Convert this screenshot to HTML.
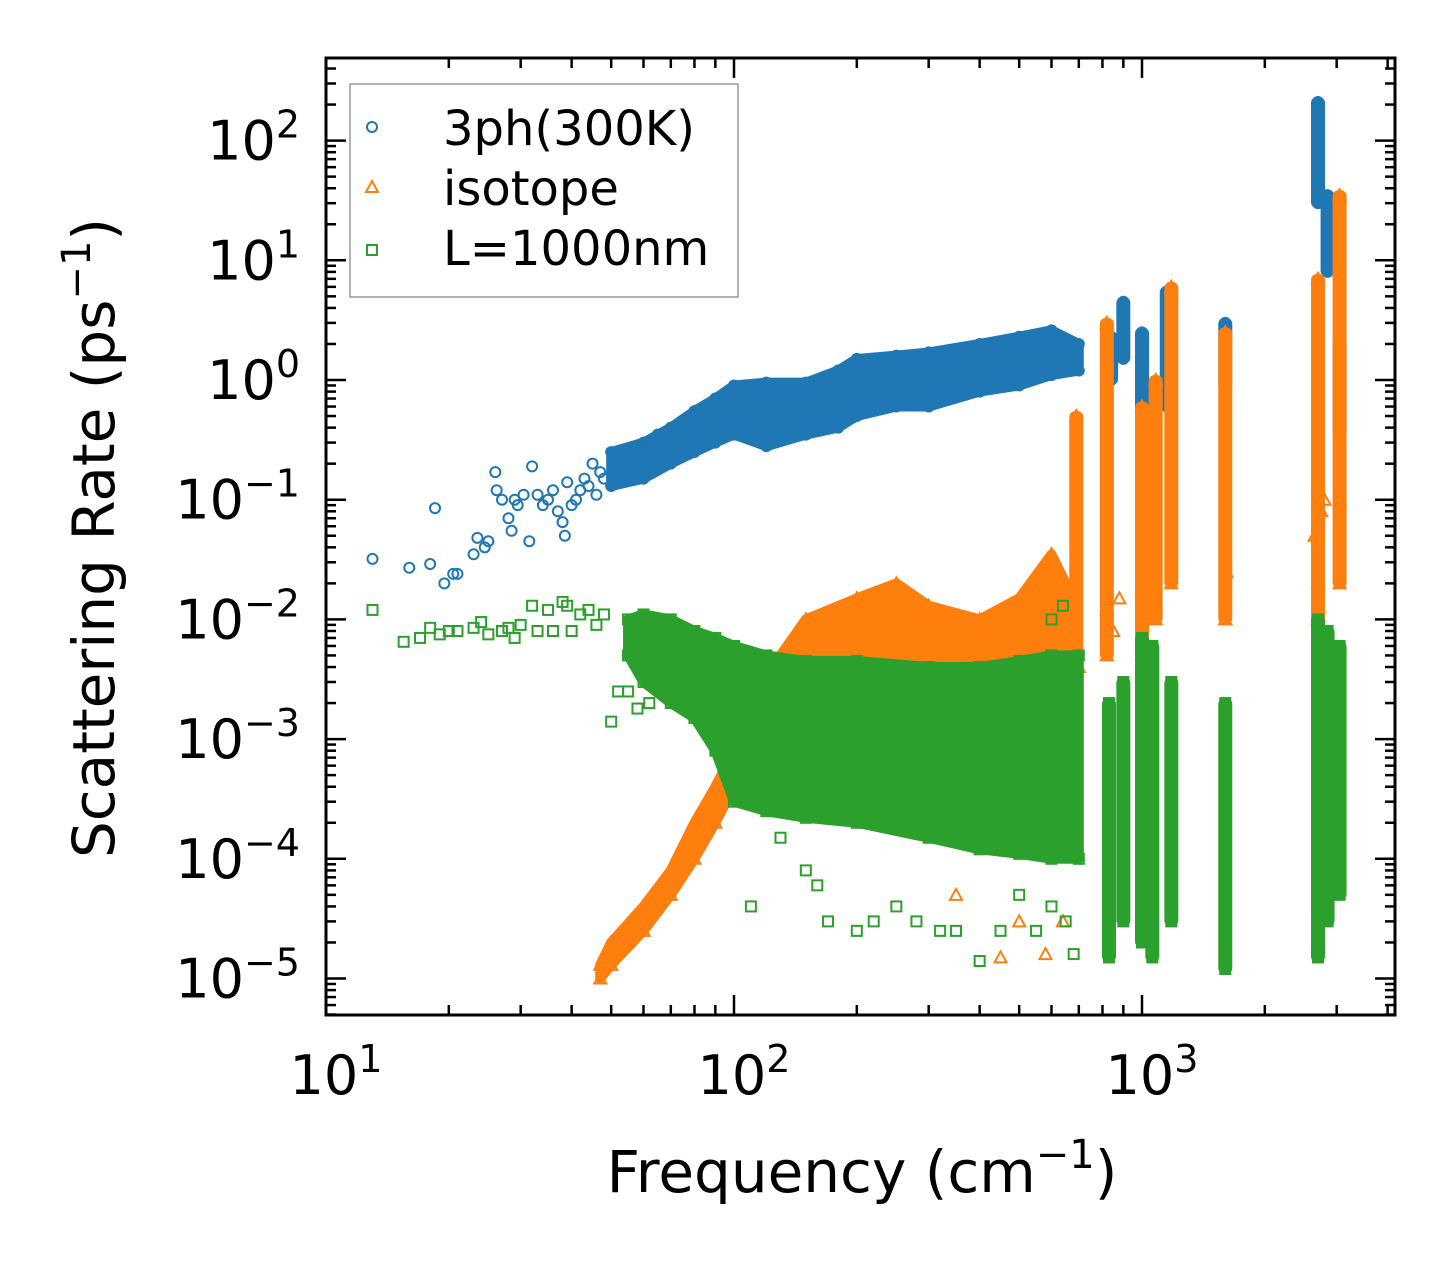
<!DOCTYPE html>
<html><head><meta charset="utf-8"><style>
body{margin:0;background:#fff}
svg{display:block}
text{font-family:"DejaVu Sans","Liberation Sans",sans-serif;fill:#000}
</style></head><body>
<svg id="chart" width="1455" height="1265" viewBox="0 0 1455 1265">
<rect width="1455" height="1265" fill="#fff"/>
<g id="marks"></g>
<g id="axes"></g>
<text x="862" y="1192" font-size="58" text-anchor="middle">Frequency (cm<tspan dy="-24" font-size="40">−1</tspan><tspan dy="24">)</tspan></text>
<text transform="translate(114,538) rotate(-90)" font-size="58" text-anchor="middle">Scattering Rate (ps<tspan dy="-24" font-size="40">−1</tspan><tspan dy="24">)</tspan></text>
<g>
<rect x="350" y="84" width="388" height="213" fill="#fff" stroke="#999" stroke-width="1.5"/>
<g><circle cx="372" cy="127" r="5" fill="none" stroke="#1f77b4" stroke-width="2"/><text x="443" y="145" font-size="48">3ph(300K)</text></g>
<g><polygon points="372,181 378,192 366,192" fill="none" stroke="#ff7f0e" stroke-width="2"/><text x="443" y="205" font-size="48">isotope</text></g>
<g><rect x="367" y="245" width="10" height="10" fill="none" stroke="#2ca02c" stroke-width="2"/><text x="443" y="265" font-size="48">L=1000nm</text></g>
</g>
</svg>
<script>
// ---- data ----
const blueBandX  = [50,60,70,80,90,100,120,150,180,200,250,300,400,500,600,700];
const blueBandLo = [0.13,0.15,0.2,0.25,0.3,0.35,0.28,0.35,0.4,0.5,0.6,0.6,0.8,0.9,1.1,1.2];
const blueBandHi = [0.25,0.3,0.4,0.55,0.7,0.9,0.95,0.95,1.2,1.5,1.6,1.7,2.0,2.3,2.6,2.0];
const blueClusterX  = [840,900,1000,1150,1600,2700,2850,3050];
const blueClusterLo = [1.0,1.5,0.5,0.6,0.9,30,8,0.35];
const blueClusterHi = [2.3,4.5,2.5,5.5,3.0,210,35,2.0];
const bluePtsX = [13,16,18,18.5,19.5,20.5,21,23,23.5,24.5,25,26,26.2,27,28,28.5,29,29.5,30.5,31.5,32,33,34,35,36,37,38,38.5,39,40,41,42,43,44,45,46,47,48,52,56,60,65,75];
const bluePtsY = [0.032,0.027,0.029,0.085,0.02,0.024,0.024,0.035,0.048,0.04,0.045,0.17,0.12,0.1,0.07,0.055,0.1,0.09,0.11,0.045,0.19,0.11,0.09,0.1,0.12,0.08,0.065,0.05,0.14,0.09,0.1,0.12,0.15,0.13,0.2,0.11,0.17,0.15,0.2,0.22,0.28,0.35,0.45];

const orangeBandX  = [47,50,60,70,80,90,100,115,130,150,200,250,300,400,500,600,650,680];
const orangeBandLo = [1e-5,1.3e-5,2.5e-5,5e-5,1e-4,2e-4,4e-4,6e-4,1e-3,1.5e-3,1.5e-3,1.5e-3,1.5e-3,1.5e-3,1.5e-3,1.5e-3,1.5e-3,1.5e-3];
const orangeBandHi = [1.3e-5,2e-5,4e-5,8e-5,2e-4,4e-4,8e-4,2e-3,5e-3,1e-2,1.5e-2,2e-2,1.3e-2,1e-2,1.5e-2,3.5e-2,2e-2,3e-3];
const orangeClusterX  = [690,820,1000,1080,1180,1600,2700,3050];
const orangeClusterLo = [3e-3,5e-3,5e-3,1e-2,2e-2,1e-2,1e-2,2e-2];
const orangeClusterHi = [0.5,3,0.6,1.0,6,2.5,7,35];
const orangePtsX = [350,450,500,580,640,700,820,850,880,1600,1610,2650,2700,2750,2800,3050];
const orangePtsY = [5e-5,1.5e-5,3e-5,1.6e-5,3e-5,4e-3,1.2e-2,8e-3,1.5e-2,1e-2,2.5e-2,0.05,0.02,0.08,0.1,0.1];

const greenBandX  = [55,60,70,80,90,100,120,150,200,300,400,500,600,700];
const greenBandLo = [5e-3,3e-3,2e-3,1.5e-3,8e-4,3e-4,2.5e-4,2.2e-4,2e-4,1.5e-4,1.2e-4,1.1e-4,1e-4,1e-4];
const greenBandHi = [1e-2,1.1e-2,1e-2,8e-3,7e-3,6e-3,5e-3,4.5e-3,4.5e-3,4e-3,4e-3,4.5e-3,5e-3,5e-3];
const greenClusterX  = [830,900,1000,1060,1180,1600,2700,2850,3050];
const greenClusterLo = [1.5e-5,3e-5,2e-5,1.5e-5,3e-5,1.2e-5,1.5e-5,3e-5,5e-5];
const greenClusterHi = [2e-3,3e-3,7e-3,6e-3,3e-3,2e-3,1e-2,8e-3,6e-3];
const greenPtsX = [13,15.5,17,18,19,20,21,23,24,25,27,28,29,30,32,33,35,36,38,39,40,42,44,46,48,50,52,55,58,62,66,70,75,85,90,110,130,150,160,170,200,220,250,280,320,350,400,450,500,550,600,650,680,600,640];
const greenPtsY = [1.2e-2,6.5e-3,7e-3,8.5e-3,7.5e-3,8e-3,8e-3,8.5e-3,9.5e-3,7.5e-3,8e-3,8.5e-3,7e-3,9e-3,1.3e-2,8e-3,1.2e-2,8e-3,1.4e-2,1.3e-2,8e-3,1.1e-2,1.2e-2,9e-3,1.1e-2,1.4e-3,2.5e-3,2.5e-3,1.8e-3,2e-3,2.5e-3,2.2e-3,2e-3,1.2e-3,1.3e-3,4e-5,1.5e-4,8e-5,6e-5,3e-5,2.5e-5,3e-5,4e-5,3e-5,2.5e-5,2.5e-5,1.4e-5,2.5e-5,5e-5,2.5e-5,4e-5,3e-5,1.6e-5,1e-2,1.3e-2];

const xTicks = [10,100,1000];
const xTickExp = ["1","2","3"];
const yTicks = [100,10,1,0.1,0.01,0.001,0.0001,0.00001];
const yTickExp = ["2","1","0","−1","−2","−3","−4","−5"];

// ---- scales ----
const L=326,R=1395,T=58,B=1015;
const X=f=>L+(Math.log10(f)-1)*408;
const Y=r=>380-Math.log10(r)*119.7;
const NS='http://www.w3.org/2000/svg';
const marks=document.getElementById('marks');
const axes=document.getElementById('axes');
function mk(tag,attrs,parent){const e=document.createElementNS(NS,tag);for(const k in attrs)e.setAttribute(k,attrs[k]);parent.appendChild(e);return e;}

function marker(shape,color,x,y,g){
  let e;
  if(shape==='c'){e=mk('circle',{cx:x,cy:y,r:5,fill:'none',stroke:color,'stroke-width':2},g);}
  else if(shape==='t'){e=mk('polygon',{points:`${x},${y-6} ${x+6},${y+5} ${x-6},${y+5}`,fill:'none',stroke:color,'stroke-width':2},g);}
  else {e=mk('rect',{x:x-5,y:y-5,width:10,height:10,fill:'none',stroke:color,'stroke-width':2},g);}
  
  
}
function series(name,color,shape,bx,blo,bhi,cx,clo,chi,px,py){
  const g=mk('g',{},marks);
  
  
  const up=bx.map((f,i)=>X(f)+','+Y(bhi[i]));
  const dn=bx.map((f,i)=>X(f)+','+Y(blo[i])).reverse();
  const band=mk('polygon',{points:up.concat(dn).join(' '),fill:color,stroke:color,'stroke-width':10,'stroke-linejoin':'round'},g);
  
  
  cx.forEach((f,i)=>{
    const r=mk('rect',{x:X(f)-7,y:Y(chi[i])-5,width:14,height:Y(clo[i])-Y(chi[i])+10,rx:6,fill:color},g);
    
    
    marker(shape,color,X(f),Y(chi[i]),g);
    marker(shape,color,X(f),Y(clo[i]),g);
  });
  bx.forEach((f,i)=>{marker(shape,color,X(f),Y(bhi[i]),g);marker(shape,color,X(f),Y(blo[i]),g);});
  px.forEach((f,i)=>marker(shape,color,X(f),Y(py[i]),g));
}
series('3ph','#1f77b4','c',blueBandX,blueBandLo,blueBandHi,blueClusterX,blueClusterLo,blueClusterHi,bluePtsX,bluePtsY);
series('isotope','#ff7f0e','t',orangeBandX,orangeBandLo,orangeBandHi,orangeClusterX,orangeClusterLo,orangeClusterHi,orangePtsX,orangePtsY);
series('boundary','#2ca02c','s',greenBandX,greenBandLo,greenBandHi,greenClusterX,greenClusterLo,greenClusterHi,greenPtsX,greenPtsY);

// ---- axes ----
mk('rect',{x:0,y:0,width:L,height:1265,fill:'#fff'},axes);
mk('rect',{x:R,y:0,width:60,height:1265,fill:'#fff'},axes);
const frame=mk('rect',{x:L,y:T,width:R-L,height:B-T,fill:'none',stroke:'#000','stroke-width':3},axes);


for(let d=1;d<=3;d++){for(let m=1;m<=9;m++){const f=m*Math.pow(10,d);const x=X(f);if(x<L-1||x>R+1)continue;const len=m===1?20:10;
  mk('line',{x1:x,y1:B,x2:x,y2:B-len,stroke:'#000','stroke-width':2.5},axes);
  mk('line',{x1:x,y1:T,x2:x,y2:T+len,stroke:'#000','stroke-width':2.5},axes);}}
for(let d=-6;d<=2;d++){for(let m=1;m<=9;m++){const r=m*Math.pow(10,d);const y=Y(r);if(y<T-1||y>B+1)continue;const len=m===1?20:10;
  mk('line',{x1:L,y1:y,x2:L+len,y2:y,stroke:'#000','stroke-width':2.5},axes);
  mk('line',{x1:R,y1:y,x2:R-len,y2:y,stroke:'#000','stroke-width':2.5},axes);}}
xTicks.forEach((f,i)=>{
  const t=mk('text',{x:X(f)+10,y:1094,'font-size':54,'text-anchor':'middle'},axes);
  
  
  t.innerHTML='10<tspan dy="-22" font-size="38">'+xTickExp[i]+'</tspan>';
});
yTicks.forEach((r,i)=>{
  const t=mk('text',{x:300,y:Y(r)+19,'font-size':54,'text-anchor':'end'},axes);
  
  
  t.innerHTML='10<tspan dy="-22" font-size="38">'+yTickExp[i]+'</tspan>';
});
</script>
</body></html>
